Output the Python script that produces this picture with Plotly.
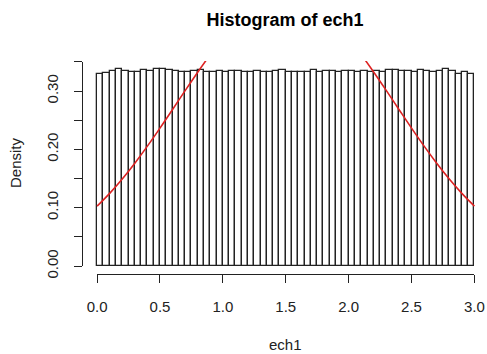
import plotly.graph_objects as go

# ---- data ----
bin_left = [0.00, 0.05, 0.10, 0.15, 0.20, 0.25, 0.30, 0.35, 0.40, 0.45,
            0.50, 0.55, 0.60, 0.65, 0.70, 0.75, 0.80, 0.85, 0.90, 0.95,
            1.00, 1.05, 1.10, 1.15, 1.20, 1.25, 1.30, 1.35, 1.40, 1.45,
            1.50, 1.55, 1.60, 1.65, 1.70, 1.75, 1.80, 1.85, 1.90, 1.95,
            2.00, 2.05, 2.10, 2.15, 2.20, 2.25, 2.30, 2.35, 2.40, 2.45,
            2.50, 2.55, 2.60, 2.65, 2.70, 2.75, 2.80, 2.85, 2.90, 2.95]
bin_width = 0.05
density = [0.330, 0.331, 0.335, 0.337, 0.335, 0.333, 0.332, 0.336, 0.334, 0.337,
           0.338, 0.336, 0.335, 0.333, 0.332, 0.334, 0.336, 0.333, 0.333, 0.334,
           0.333, 0.334, 0.335, 0.332, 0.333, 0.335, 0.333, 0.332, 0.334, 0.336,
           0.333, 0.332, 0.333, 0.332, 0.336, 0.333, 0.335, 0.335, 0.333, 0.334,
           0.334, 0.333, 0.334, 0.332, 0.334, 0.333, 0.336, 0.336, 0.334, 0.335,
           0.333, 0.336, 0.334, 0.333, 0.334, 0.337, 0.335, 0.329, 0.332, 0.329]

curve_x = [0.0, 0.1, 0.2, 0.3, 0.4, 0.5, 0.6, 0.7, 0.8, 0.9, 1.0,
           1.1, 1.2, 1.3, 1.4, 1.5, 1.6, 1.7, 1.8, 1.9, 2.0,
           2.1, 2.2, 2.3, 2.4, 2.5, 2.6, 2.7, 2.8, 2.9, 3.0]
curve_y = [0.1028, 0.1247, 0.1493, 0.1764, 0.2056, 0.2365, 0.2685, 0.3007, 0.3323, 0.3624, 0.3900,
           0.4140, 0.4339, 0.4486, 0.4577, 0.4607, 0.4577, 0.4486, 0.4339, 0.4140, 0.3900,
           0.3624, 0.3323, 0.3007, 0.2685, 0.2365, 0.2056, 0.1764, 0.1493, 0.1247, 0.1028]

x_ticks = [0.0, 0.5, 1.0, 1.5, 2.0, 2.5, 3.0]
x_ticktext = ["0.0", "0.5", "1.0", "1.5", "2.0", "2.5", "3.0"]
y_ticks = [0.00, 0.05, 0.10, 0.15, 0.20, 0.25, 0.30, 0.35]
y_ticktext = ["0.00", "", "0.10", "", "0.20", "", "0.30", ""]

FONT = "Liberation Sans, Arial, Helvetica, sans-serif"

centers = [b + bin_width / 2 for b in bin_left]

fig = go.Figure()
fig.add_trace(go.Bar(x=centers, y=density, width=[bin_width] * len(centers),
                     marker=dict(color="white", line=dict(color="#222222", width=1.3)),
                     showlegend=False, hoverinfo="skip"))
fig.add_trace(go.Scatter(x=curve_x, y=curve_y, mode="lines",
                         line=dict(color="#dd2222", width=1.6, shape="spline"),
                         showlegend=False, hoverinfo="skip"))
fig.add_trace(go.Scatter(x=[], y=[], xaxis="x2", yaxis="y2", showlegend=False))

W, H = 487, 354
ml, mr, mt, mb = 82, 0, 61, 80
pw = W - ml - mr
ph = H - mt - mb
xr = [-0.12, 3.10]
yr = [-0.0135, 0.3515]

def xfrac(v):
    return (v - xr[0]) / (xr[1] - xr[0])

def yfrac(v):
    return (v - yr[0]) / (yr[1] - yr[0])

fig.update_layout(
    width=W, height=H,
    margin=dict(l=ml, r=mr, t=mt, b=mb, autoexpand=False),
    paper_bgcolor="white", plot_bgcolor="rgba(0,0,0,0)",
    bargap=0,
    font=dict(family=FONT, size=15, color="black"),
    xaxis=dict(range=xr, visible=False, domain=[0, 1], automargin=False),
    yaxis=dict(range=yr, visible=False, domain=[0, 1], automargin=False),
    xaxis2=dict(range=[0, 3], domain=[xfrac(0), xfrac(3)], anchor="free", position=0,
                automargin=False,
                showline=True, linecolor="#222222", linewidth=1, showgrid=False, zeroline=False,
                ticks="outside", ticklen=8, tickcolor="#222222", tickwidth=1,
                tickvals=x_ticks, ticktext=x_ticktext, ticklabelstandoff=11,
                tickfont=dict(size=15, family=FONT, color="#222222")),
    yaxis2=dict(range=[0, 0.35], domain=[yfrac(0), yfrac(0.35)], anchor="free", position=0,
                automargin=False,
                showline=True, linecolor="#222222", linewidth=1, showgrid=False, zeroline=False,
                ticks="outside", ticklen=8, tickcolor="#222222", tickwidth=1,
                tickvals=y_ticks, ticktext=y_ticktext, tickangle=-90, ticklabelstandoff=10,
                tickfont=dict(size=15, family=FONT, color="#222222")),
    title=dict(text="<b>Histogram of ech1</b>", x=(285 - ml) / pw, xref="paper", xanchor="center",
               y=1 - 20 / H, yref="container", yanchor="middle",
               font=dict(size=18, family=FONT, color="black")),
    annotations=[
        dict(text="ech1", x=(285 - ml) / pw, y=(mt + ph - 344) / ph, xref="paper", yref="paper",
             showarrow=False, xanchor="center", yanchor="middle",
             font=dict(size=15, family=FONT, color="#222222")),
        dict(text="Density", x=(15 - ml) / pw, y=(mt + ph - 163) / ph, xref="paper", yref="paper",
             showarrow=False, xanchor="center", yanchor="middle", textangle=-90,
             font=dict(size=15, family=FONT, color="#222222")),
    ],
)

fig.write_html("out.html", config={"displayModeBar": False},
               post_script="document.body.style.margin='0';document.body.style.overflow='hidden';")
